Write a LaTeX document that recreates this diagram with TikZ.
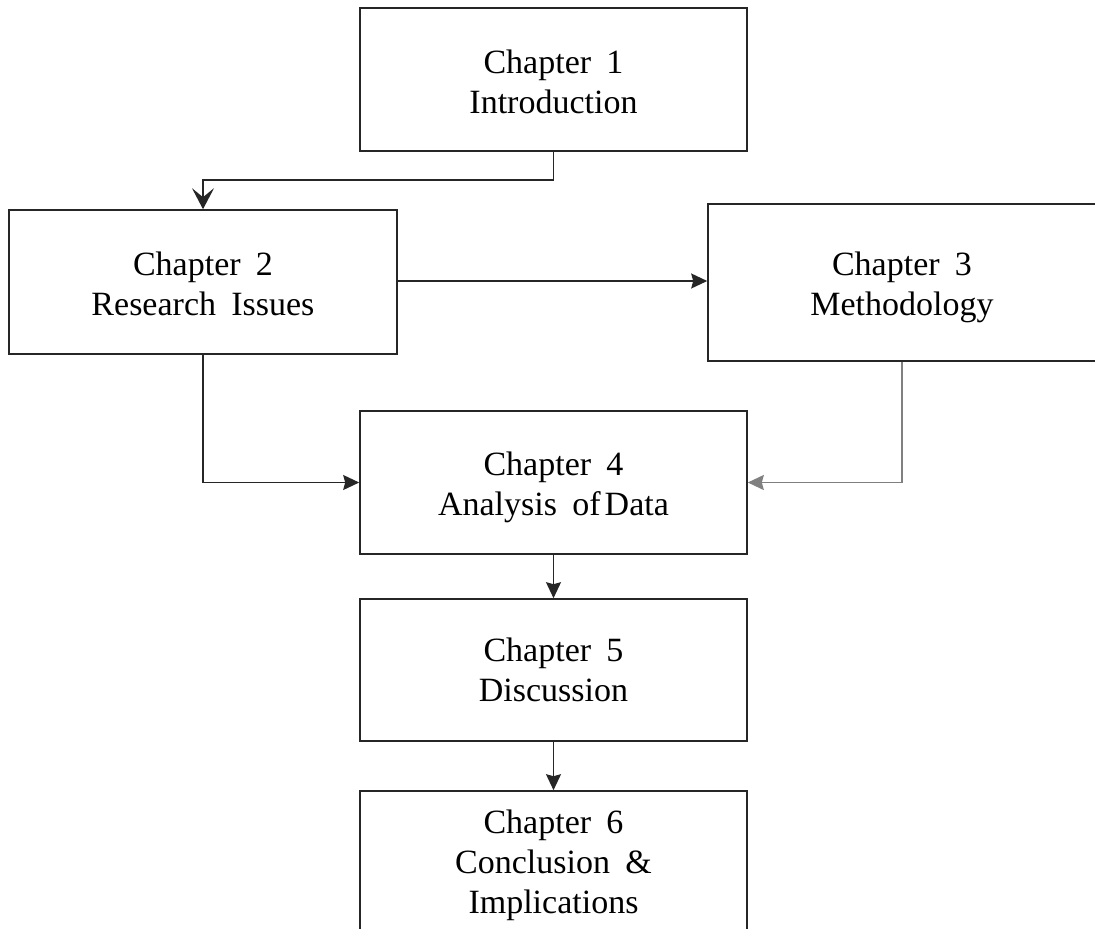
\documentclass[tikz,border=0pt]{standalone}
\usepackage{fontspec}
\setmainfont{Liberation Serif}
\usetikzlibrary{arrows.meta}
\newcommand{\wsp}{\hspace{0.45em}}
\begin{document}
\begin{tikzpicture}[x=1pt,y=-1pt,
  chapbox/.style={draw=black!85, line width=1.6pt, rectangle, inner sep=0pt,
    minimum width=387pt, minimum height=143pt},
  chaptext/.style={align=center, inner sep=0pt, text=black,
    font=\fontsize{34}{40}\selectfont},
  link/.style={draw=black!85, line width=1.4pt, -{Stealth[length=16pt,width=15pt,inset=2pt]}},
  firstlink/.style={draw=black!85, line width=1.4pt, -{Stealth[length=21pt,width=22pt,inset=9pt]}}
]
\useasboundingbox (0,0) rectangle (1095,929);
\fill[white] (0,0) rectangle (1095,929);

% chapter boxes
\node[chapbox] (b1) at (553.5,79.5) {};
\node[chapbox, minimum width=388pt, minimum height=144pt] (b2) at (203,282) {};
\node[chapbox, minimum width=388pt, minimum height=157pt] (b3) at (902,282.5) {};
\node[chapbox] (b4) at (553.5,482.5) {};
\node[chapbox, minimum height=142pt] (b5) at (553.5,670) {};
\node[chapbox] (b6) at (553.5,862.5) {};

% chapter titles
\node[chaptext] (t1) at ([yshift=-2pt]b1.center) {Chapter\wsp1\\Introduction};
\node[chaptext] (t2) at ([yshift=-2pt]b2.center) {Chapter\wsp2\\Research\wsp Issues};
\node[chaptext] (t3) at ([yshift=-5pt]b3.center) {Chapter\wsp3\\Methodology};
\node[chaptext] (t4) at ([yshift=-5pt]b4.center) {Chapter\wsp4\\Analysis\wsp of\hspace{0.12em}Data};
\node[chaptext] (t5) at (b5.center) {Chapter\wsp5\\Discussion};
\node[chaptext] (t6) at ([yshift=-3pt]b6.center) {Chapter\wsp6\\Conclusion\wsp\&\\Implications};

\coordinate (j1) at (553.5,180);

% connectors
\draw[firstlink] (b1.south) -- (j1) -| (b2.north);
\draw[link] (b2.east |- 0,281) -- (b3.west |- 0,281);
\draw[link] (b2.south) |- (b4.west);
\draw[link, draw=black!50, line width=1.8pt] (b3.south) |- (b4.east);
\draw[link] (b4.south) -- (b5.north);
\draw[link] (b5.south) -- (b6.north);
\end{tikzpicture}
\end{document}
